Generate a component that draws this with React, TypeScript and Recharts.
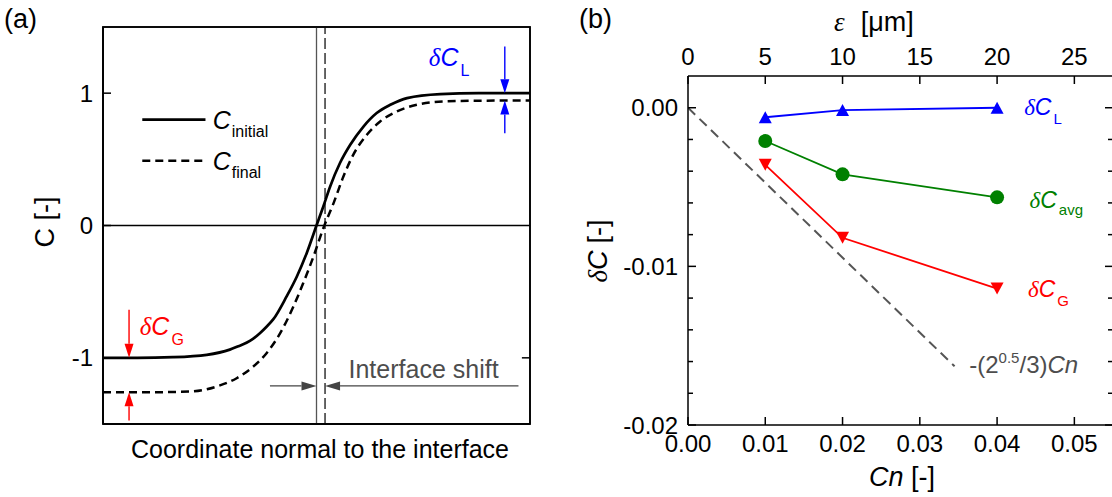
import React from 'react';
import { LineChart, Line, XAxis, YAxis, ReferenceLine, ReferenceDot, ReferenceArea } from 'recharts';

const SANS = '"Liberation Sans", Arial, Helvetica, sans-serif';
const SERIF = '"Liberation Serif", "Times New Roman", serif';

// ---------------- Panel (a) ----------------
const coordInitial = [0, 8, 16.4, 24.3, 29.7, 31.5, 33.6, 35.2, 36.8, 38.3, 39.9, 43.0, 45.4, 47.7, 50.0, 51.6, 53.2, 55.5, 57.9, 61.0, 64.1, 67.3, 71.2, 79.0, 88, 100];
const cInitial = [-1, -1, -0.995, -0.977, -0.938, -0.915, -0.886, -0.855, -0.812, -0.765, -0.708, -0.536, -0.385, -0.209, 0, 0.144, 0.295, 0.472, 0.61, 0.748, 0.85, 0.912, 0.963, 0.993, 1, 1];
const coordFinal = [0, 10, 20.3, 26.6, 31.3, 35.2, 38.3, 41.5, 44.6, 46.9, 49.3, 51.6, 54.0, 56.3, 58.6, 61.8, 64.9, 68.8, 73.5, 79.8, 88, 100];
const cFinal = [-1.26, -1.26, -1.255, -1.217, -1.154, -1.066, -0.965, -0.813, -0.612, -0.435, -0.234, -0.02, 0.169, 0.37, 0.534, 0.686, 0.786, 0.862, 0.912, 0.937, 0.943, 0.945];
const yTicksA = [-1, 0, 1];
const yTicksARight = [-1, 1];
const interfaceInitial = 50;
const interfaceFinal = 52;

// ---------------- Panel (b) ----------------
const cnValues = [0.01, 0.02, 0.04];
const epsValues = [5, 10, 20];
const deltaCL = [-0.0006, -0.00015, 0.0];
const deltaCavg = [-0.0021, -0.0042, -0.00565];
const deltaCG = [-0.0036, -0.0082, -0.0114];
const guideCn = [0, 0.0345];
const guideDelta = [0, -0.0163];
const cnTicks = [0, 0.01, 0.02, 0.03, 0.04, 0.05];
const epsTicks = [0, 5, 10, 15, 20, 25];
const dcTicks = [0, -0.002, -0.004, -0.006, -0.008, -0.01, -0.012, -0.014, -0.016, -0.018, -0.02];

const initialData = coordInitial.map((x, i) => ({ x, c: cInitial[i] }));
const finalData = coordFinal.map((x, i) => ({ x, c: cFinal[i] }));
const lData = cnValues.map((cn, i) => ({ cn, v: deltaCL[i] }));
const avgData = cnValues.map((cn, i) => ({ cn, v: deltaCavg[i] }));
const gData = cnValues.map((cn, i) => ({ cn, v: deltaCG[i] }));
const epsData = epsValues.map((eps, i) => ({ eps, v: deltaCL[i] }));
const guideData = guideCn.map((cn, i) => ({ cn, v: guideDelta[i] }));

const isMajor = (v: number) => Math.abs(v * 100 - Math.round(v * 100)) < 1e-9;

// panel (a) layout (chart size and axis bands)
const A_W = 560, A_H = 497, A_TOP = 27, A_RIGHT = 30, A_YAXIS = 103, A_XAXIS = 73;

// ---------- tick renderers (inward ticks) ----------
const leftTick = (fmt: (v: number) => string | null, len: (v: number) => number, fs: number) => (p: any) => {
  const { x, y, payload } = p;
  const lab = fmt(payload.value);
  return (
    <g>
      <line x1={x} y1={y} x2={x + len(payload.value)} y2={y} stroke="#000" strokeWidth={1.5} />
      {lab !== null && (
        <text x={x - 10} y={y} dy="0.36em" textAnchor="end" fontSize={fs} fill="#000" fontFamily={SANS}>{lab}</text>
      )}
    </g>
  );
};
const rightTick = (len: (v: number) => number) => (p: any) => {
  const { x, y, payload } = p;
  return <line x1={x} y1={y} x2={x - len(payload.value)} y2={y} stroke="#000" strokeWidth={1.5} />;
};
const bottomTick = (fmt: (v: number) => string, len: number, fs: number) => (p: any) => {
  const { x, y, payload } = p;
  return (
    <g>
      <line x1={x} y1={y} x2={x} y2={y - len} stroke="#000" strokeWidth={1.5} />
      <text x={x} y={y + 27} textAnchor="middle" fontSize={fs} fill="#000" fontFamily={SANS}>{fmt(payload.value)}</text>
    </g>
  );
};
const topTick = (fmt: (v: number) => string, len: number, fs: number) => (p: any) => {
  const { x, y, payload } = p;
  return (
    <g>
      <line x1={x} y1={y} x2={x} y2={y + len} stroke="#000" strokeWidth={1.5} />
      <text x={x} y={y - 11} textAnchor="middle" fontSize={fs} fill="#000" fontFamily={SANS}>{fmt(payload.value)}</text>
    </g>
  );
};

// ---------- annotation shapes ----------
const arrowShape = (color: string, w: number, headLen: number, headHalf: number) => (p: any) => {
  const { x1, y1, x2, y2 } = p;
  const dx = x2 - x1, dy = y2 - y1;
  const d = Math.hypot(dx, dy) || 1;
  const ux = dx / d, uy = dy / d;
  const bx = x2 - ux * headLen, by = y2 - uy * headLen;
  return (
    <g>
      <line x1={x1} y1={y1} x2={bx} y2={by} stroke={color} strokeWidth={w} />
      <polygon points={`${x2},${y2} ${bx - uy * headHalf},${by + ux * headHalf} ${bx + uy * headHalf},${by - ux * headHalf}`} fill={color} />
    </g>
  );
};

const deltaLabel = (sub: string, color: string, fs: number, subFs: number, subDy: number) => (p: any) => (
  <text x={p.cx} y={p.cy} fill={color} fontSize={fs} fontFamily={SANS}>
    <tspan fontFamily={SERIF} fontStyle="italic">δ</tspan>
    <tspan fontStyle="italic">C</tspan>
    <tspan fontSize={subFs} dy={subDy} dx={2}>{sub}</tspan>
  </text>
);

const legendLabel = (sub: string) => (p: any) => (
  <text x={p.cx} y={p.cy} fill="#000" fontSize={25} fontFamily={SANS}>
    <tspan fontStyle="italic">C</tspan>
    <tspan fontSize={16} dy={8} dx={1}>{sub}</tspan>
  </text>
);

const plainLabel = (txt: string, color: string, fs: number) => (p: any) => (
  <text x={p.cx} y={p.cy} fill={color} fontSize={fs} fontFamily={SANS}>{txt}</text>
);

const guideLabel = (p: any) => (
  <text x={p.cx} y={p.cy} fill="#4d4d4d" fontSize={24} fontFamily={SANS}>
    <tspan>-(2</tspan>
    <tspan fontSize={15} dy={-10}>0.5</tspan>
    <tspan dy={10}>/3)</tspan>
    <tspan fontStyle="italic">Cn</tspan>
  </text>
);

const tri = (color: string, up: boolean) => (p: any) => {
  const { cx, cy, index } = p;
  const w = 13, h = 12;
  const pts = up
    ? `${cx},${cy - h / 2} ${cx - w / 2},${cy + h / 2} ${cx + w / 2},${cy + h / 2}`
    : `${cx},${cy + h / 2} ${cx - w / 2},${cy - h / 2} ${cx + w / 2},${cy - h / 2}`;
  return <polygon key={`t${index}`} points={pts} fill={color} />;
};
const circ = (color: string) => (p: any) => <circle key={`c${p.index}`} cx={p.cx} cy={p.cy} r={7} fill={color} />;

// inward tick marks on the right edge of panel (a)
const rightTickSegA = (v: number) => [{ x: 98.1, y: v }, { x: 100, y: v }];

const axisLine = { stroke: '#000', strokeWidth: 1.5 };

function PanelA() {
  return (
    <LineChart width={A_W} height={A_H} margin={{ top: A_TOP, right: A_RIGHT, bottom: 0, left: 0 }}>
      <XAxis type="number" dataKey="x" domain={[0, 100]} height={A_XAXIS} tick={false} tickLine={false} axisLine={axisLine} allowDataOverflow />
      <YAxis type="number" domain={[-1.5, 1.5]} ticks={yTicksA} interval={0} width={A_YAXIS} tickSize={0} tickMargin={0} tickLine={false} axisLine={axisLine} allowDataOverflow
        tick={leftTick((v) => String(v), () => 8, 24)} />

      {/* plot frame */}
      <ReferenceArea x1={0} x2={100} y1={-1.5} y2={1.5} fill="none" stroke="#000" strokeWidth={1.6} ifOverflow="visible" />
      {yTicksARight.map((v) => (
        <ReferenceLine key={`rt${v}`} segment={rightTickSegA(v)} stroke="#000" strokeWidth={1.5} ifOverflow="visible" />
      ))}

      <ReferenceLine y={0} stroke="#000" strokeWidth={1.5} />
      <ReferenceLine x={interfaceInitial} stroke="#555" strokeWidth={1.3} />
      <ReferenceLine x={interfaceFinal} stroke="#333" strokeWidth={1.5} strokeDasharray="11 4" />

      <Line data={initialData} dataKey="c" type="monotone" stroke="#000" strokeWidth={2.7} dot={false} isAnimationActive={false} />
      <Line data={finalData} dataKey="c" type="monotone" stroke="#000" strokeWidth={2.5} strokeDasharray="8 5" dot={false} isAnimationActive={false} />

      {/* legend */}
      <ReferenceLine segment={[{ x: 9.2, y: 0.8 }, { x: 24, y: 0.8 }]} stroke="#000" strokeWidth={2.7} />
      <ReferenceLine segment={[{ x: 9.2, y: 0.49 }, { x: 24, y: 0.49 }]} stroke="#000" strokeWidth={2.5} strokeDasharray="8 5" />
      <ReferenceDot x={25.7} y={0.729} r={0} shape={legendLabel('initial')} />
      <ReferenceDot x={25.7} y={0.416} r={0} shape={legendLabel('final')} />

      {/* deltas */}
      <ReferenceLine segment={[{ x: 94.1, y: 1.353 }, { x: 94.1, y: 1.0 }]} shape={arrowShape('#0000ff', 1.4, 14, 4.5)} />
      <ReferenceLine segment={[{ x: 94.1, y: 0.698 }, { x: 94.1, y: 0.945 }]} shape={arrowShape('#0000ff', 1.4, 14, 4.5)} />
      <ReferenceDot x={76.3} y={1.202} r={0} shape={deltaLabel('L', '#0000ff', 25, 16, 10)} />

      <ReferenceLine segment={[{ x: 6.1, y: -0.637 }, { x: 6.1, y: -1.0 }]} shape={arrowShape('#ff0000', 1.4, 14, 4.5)} />
      <ReferenceLine segment={[{ x: 6.1, y: -1.474 }, { x: 6.1, y: -1.26 }]} shape={arrowShape('#ff0000', 1.4, 14, 4.5)} />
      <ReferenceDot x={8.6} y={-0.826} r={0} shape={deltaLabel('G', '#ff0000', 25, 16, 10)} />

      {/* interface shift */}
      <ReferenceLine segment={[{ x: 39.1, y: -1.212 }, { x: interfaceInitial, y: -1.212 }]} shape={arrowShape('#444', 1.3, 15, 4.5)} />
      <ReferenceLine segment={[{ x: 97.3, y: -1.212 }, { x: interfaceFinal, y: -1.212 }]} shape={arrowShape('#444', 1.3, 15, 4.5)} />
      <ReferenceDot x={57.5} y={-1.153} r={0} shape={plainLabel('Interface shift', '#4d4d4d', 25)} />
    </LineChart>
  );
}

function PanelB() {
  return (
    <LineChart width={570} height={497} margin={{ top: 0, right: 0, bottom: 0, left: 0 }}>
      <XAxis xAxisId={0} type="number" dataKey="cn" domain={[0, 0.055]} ticks={cnTicks} interval={0} height={72} tickSize={0} tickMargin={0} tickLine={false} axisLine={axisLine} allowDataOverflow
        tick={bottomTick((v) => v.toFixed(2), 8, 24)} />
      <XAxis xAxisId={1} orientation="top" type="number" dataKey="eps" domain={[0, 27.5]} ticks={epsTicks} interval={0} height={76} tickSize={0} tickMargin={0} tickLine={false} axisLine={axisLine} allowDataOverflow
        tick={topTick((v) => String(v), 8, 24)} />
      <YAxis yAxisId={0} type="number" domain={[-0.02, 0.002]} ticks={dcTicks} interval={0} width={128} tickSize={0} tickMargin={0} tickLine={false} axisLine={axisLine} allowDataOverflow
        tick={leftTick((v) => (isMajor(v) ? v.toFixed(2) : null), (v) => (isMajor(v) ? 8 : 5), 24)} />
      <YAxis yAxisId={1} orientation="right" type="number" domain={[-0.02, 0.002]} ticks={dcTicks} interval={0} width={17} tickSize={0} tickMargin={0} tickLine={false} axisLine={axisLine} allowDataOverflow
        tick={rightTick((v) => (isMajor(v) ? 8 : 5))} />

      <Line xAxisId={1} yAxisId={1} data={epsData} dataKey="v" stroke="none" dot={false} isAnimationActive={false} />
      <Line data={guideData} dataKey="v" type="linear" stroke="#555" strokeWidth={2} strokeDasharray="10 6" dot={false} isAnimationActive={false} />
      <Line data={lData} dataKey="v" type="linear" stroke="#0000ff" strokeWidth={1.8} dot={tri('#0000ff', true)} isAnimationActive={false} />
      <Line data={avgData} dataKey="v" type="linear" stroke="#008000" strokeWidth={1.8} dot={circ('#008000')} isAnimationActive={false} />
      <Line data={gData} dataKey="v" type="linear" stroke="#ff0000" strokeWidth={1.8} dot={tri('#ff0000', false)} isAnimationActive={false} />

      <ReferenceDot x={0.0435} y={-0.00046} r={0} shape={deltaLabel('L', '#0000ff', 23, 15, 9)} />
      <ReferenceDot x={0.0442} y={-0.00632} r={0} shape={deltaLabel('avg', '#008000', 23, 15, 7)} />
      <ReferenceDot x={0.044} y={-0.01195} r={0} shape={deltaLabel('G', '#ff0000', 23, 15, 9)} />
      <ReferenceDot x={0.0364} y={-0.01674} r={0} shape={guideLabel} />
    </LineChart>
  );
}

export default function App() {
  return (
    <div style={{ position: 'fixed', left: 0, top: 0, width: 1112, height: 497, overflow: 'hidden', background: '#fff', fontFamily: SANS }}>
      <div style={{ position: 'absolute', left: 0, top: 0 }}>
        <PanelA />
      </div>
      <div style={{ position: 'absolute', left: 560, top: 0 }}>
        <PanelB />
      </div>
      <svg width={1112} height={497} style={{ position: 'absolute', left: 0, top: 0, pointerEvents: 'none' }} fontFamily={SANS}>
        {/* panel (a) plot frame, from the chart's own layout constants */}
        <rect x={A_YAXIS} y={A_TOP} width={A_W - A_RIGHT - A_YAXIS} height={A_H - A_XAXIS - A_TOP} fill="none" stroke="#000" strokeWidth={1.6} />
        <text x={4} y={28} fontSize={27} fill="#000">(a)</text>
        <text x={579} y={28} fontSize={27} fill="#000">(b)</text>
        <text transform="translate(54,222) rotate(-90)" textAnchor="middle" fontSize={27} fill="#000">C [-]</text>
        <text x={320} y={458} textAnchor="middle" fontSize={25} fill="#000">Coordinate normal to the interface</text>
        <text transform="translate(607,251) rotate(-90)" textAnchor="middle" fontSize={27} fill="#000">
          <tspan fontFamily={SERIF} fontStyle="italic">δ</tspan>
          <tspan fontStyle="italic">C</tspan>
          <tspan dx={7}>[-]</tspan>
        </text>
        <text x={902} y={486} textAnchor="middle" fontSize={27} fill="#000">
          <tspan fontStyle="italic">Cn</tspan>
          <tspan> [-]</tspan>
        </text>
        <text x={834} y={31} fontSize={27} fill="#000">
          <tspan fontFamily={SERIF} fontStyle="italic">ε</tspan>
          <tspan dx={16}>[μm]</tspan>
        </text>
      </svg>
    </div>
  );
}
